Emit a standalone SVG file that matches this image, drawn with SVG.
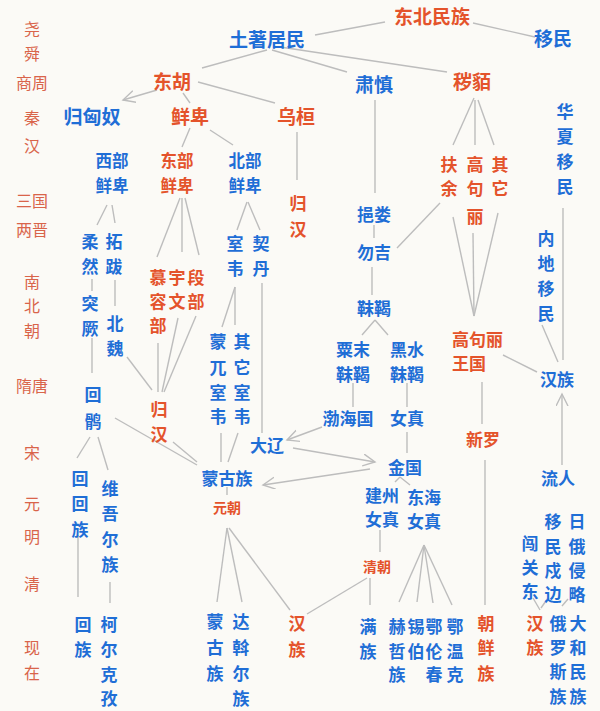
<svg xmlns="http://www.w3.org/2000/svg" width="600" height="711" viewBox="0 0 600 711">
<defs>
<style>
text{font-family:"Noto Sans CJK SC","Noto Sans",sans-serif;text-anchor:middle;dominant-baseline:central}
.r{fill:#e4532b;font-weight:700;font-size:17px}
.b{fill:#1f6ed6;font-weight:700;font-size:17px}
.L{font-size:19px}
.s{font-size:14px}
.m{font-size:16.5px}
.e{fill:#d9644a;font-size:16px}
.c line{stroke:#bdbdbd;stroke-width:1.4;fill:none}
.st{text-anchor:start}
</style>
<marker id="a" markerUnits="userSpaceOnUse" markerWidth="16" markerHeight="16" refX="12" refY="6" orient="auto"><path d="M0,0 L12,6 L0,12" fill="none" stroke="#bdbdbd" stroke-width="1.4"/></marker>
</defs>
<rect width="600" height="711" fill="#fbfaf6"/>
<g id="eras">
<text class="e" x="32" y="28">尧</text><text class="e" x="32" y="53">舜</text>
<text class="e" x="32" y="82">商周</text>
<text class="e" x="32" y="117">秦</text><text class="e" x="32" y="145">汉</text>
<text class="e" x="32" y="200">三国</text><text class="e" x="32" y="229">两晋</text>
<text class="e" x="32" y="281">南</text><text class="e" x="32" y="305">北</text><text class="e" x="32" y="330">朝</text>
<text class="e" x="32" y="385">隋唐</text>
<text class="e" x="32" y="452">宋</text>
<text class="e" x="32" y="503">元</text>
<text class="e" x="32" y="536">明</text>
<text class="e" x="32" y="583">清</text>
<text class="e" x="32" y="647">现</text><text class="e" x="32" y="672">在</text>
</g>
<g class="c" id="connectors">
<line x1="385" y1="22" x2="315" y2="35"/>
<line x1="473" y1="23" x2="535" y2="37"/>
<line x1="267" y1="50" x2="202" y2="68"/>
<line x1="272" y1="50" x2="347" y2="72"/>
<line x1="280" y1="47" x2="447" y2="72"/>
<line x1="198" y1="82" x2="275" y2="103"/>
<line x1="157" y1="90" x2="123" y2="100" marker-end="url(#a)"/>
<line x1="183" y1="93" x2="190" y2="103"/>
<line x1="190" y1="128" x2="182" y2="147"/>
<line x1="210" y1="130" x2="233" y2="145"/>
<line x1="297" y1="132" x2="297" y2="180"/>
<line x1="375" y1="100" x2="375" y2="193"/>
<line x1="374" y1="225" x2="374" y2="238"/>
<line x1="440" y1="203" x2="397" y2="248"/>
<line x1="372" y1="267" x2="372" y2="295"/>
<line x1="474" y1="98" x2="453" y2="145"/>
<line x1="475" y1="100" x2="475" y2="145"/>
<line x1="478" y1="100" x2="494" y2="145"/>
<line x1="453" y1="217" x2="474" y2="316"/>
<line x1="473" y1="233" x2="474" y2="316"/>
<line x1="498" y1="213" x2="474" y2="316"/>
<line x1="563" y1="208" x2="563" y2="360"/>
<line x1="542" y1="325" x2="558" y2="362"/>
<line x1="503" y1="355" x2="537" y2="372"/>
<line x1="482" y1="382" x2="482" y2="424"/>
<line x1="485" y1="460" x2="485" y2="605"/>
<line x1="562" y1="465" x2="562" y2="394" marker-end="url(#a)"/>
<line x1="107" y1="205" x2="97" y2="225"/>
<line x1="112" y1="205" x2="115" y2="223"/>
<line x1="92" y1="279" x2="92" y2="291"/>
<line x1="92" y1="338" x2="92" y2="373"/>
<line x1="115" y1="280" x2="115" y2="306"/>
<line x1="127" y1="357" x2="152" y2="390"/>
<line x1="180" y1="198" x2="157" y2="257"/>
<line x1="182" y1="198" x2="182" y2="252"/>
<line x1="185" y1="198" x2="199" y2="255"/>
<line x1="158" y1="343" x2="158" y2="392"/>
<line x1="178" y1="318" x2="162" y2="392"/>
<line x1="196" y1="316" x2="164" y2="392"/>
<line x1="115" y1="418" x2="197" y2="465"/>
<line x1="173" y1="442" x2="197" y2="462"/>
<line x1="247" y1="202" x2="237" y2="230"/>
<line x1="248" y1="202" x2="260" y2="230"/>
<line x1="235" y1="287" x2="222" y2="327"/>
<line x1="235" y1="287" x2="235" y2="325"/>
<line x1="262" y1="283" x2="262" y2="433"/>
<line x1="221" y1="433" x2="221" y2="462"/>
<line x1="238" y1="433" x2="228" y2="462"/>
<line x1="322" y1="427" x2="287" y2="440" marker-end="url(#a)"/>
<line x1="293" y1="448" x2="375" y2="462" marker-end="url(#a)"/>
<line x1="370" y1="469" x2="263" y2="485" marker-end="url(#a)"/>
<line x1="353" y1="383" x2="353" y2="407"/>
<line x1="407" y1="383" x2="407" y2="407"/>
<line x1="375" y1="320" x2="362" y2="335"/>
<line x1="375" y1="320" x2="388" y2="335"/>
<line x1="407" y1="432" x2="407" y2="453"/>
<line x1="400" y1="477" x2="395" y2="482"/>
<line x1="400" y1="477" x2="410" y2="485"/>
<line x1="380" y1="530" x2="380" y2="552"/>
<line x1="424" y1="545" x2="399" y2="602"/>
<line x1="424" y1="545" x2="417" y2="602"/>
<line x1="424" y1="545" x2="433" y2="603"/>
<line x1="424" y1="545" x2="452" y2="605"/>
<line x1="367" y1="578" x2="307" y2="614"/>
<line x1="370" y1="578" x2="370" y2="605"/>
<line x1="227" y1="528" x2="217" y2="602"/>
<line x1="227" y1="528" x2="242" y2="602"/>
<line x1="229" y1="528" x2="290" y2="610"/>
<line x1="227" y1="487" x2="227" y2="495"/>
<line x1="90" y1="437" x2="77" y2="458"/>
<line x1="98" y1="437" x2="108" y2="470"/>
<line x1="78" y1="535" x2="78" y2="597"/>
<line x1="110" y1="582" x2="110" y2="603"/>
<line x1="533" y1="598" x2="540" y2="610"/>
<line x1="548" y1="598" x2="541" y2="608"/>
<line x1="568" y1="599" x2="562" y2="606"/>
</g>
<g id="dongbei"><text class="r L" x="432" y="15">东北民族</text></g>
<g id="tuzhu"><text class="b L" x="267" y="38">土著居民</text></g>
<g id="yimin"><text class="b L" x="553" y="37">移民</text></g>
<g id="donghu"><text class="r L" x="172" y="80">东胡</text></g>
<g id="sushen"><text class="b L" x="374" y="83">肃慎</text></g>
<g id="huimo"><text class="r L" x="472" y="80">秽貊</text></g>
<g id="guixiongnu"><text class="b L" x="92" y="115">归匈奴</text></g>
<g id="xianbei"><text class="r L" x="190" y="115">鲜卑</text></g>
<g id="wuhuan"><text class="r L" x="296" y="115">乌桓</text></g>
<g id="huaxia"><text class="b"><tspan x="565" y="110">华</tspan><tspan x="565" y="135">夏</tspan><tspan x="565" y="160">移</tspan><tspan x="565" y="185">民</tspan></text></g>
<g id="xibu"><text class="b m"><tspan x="112" y="160">西部</tspan><tspan x="112" y="185">鲜卑</tspan></text></g>
<g id="dongbu"><text class="r m"><tspan x="177" y="160">东部</tspan><tspan x="177" y="185">鲜卑</tspan></text></g>
<g id="beibu"><text class="b m"><tspan x="245" y="160">北部</tspan><tspan x="245" y="185">鲜卑</tspan></text></g>
<g id="guihan1"><text class="r"><tspan x="298" y="202">归</tspan><tspan x="298" y="228">汉</tspan></text></g>
<g id="fuyu"><text class="r"><tspan x="449" y="163">扶</tspan><tspan x="449" y="187">余</tspan></text></g>
<g id="gaogouli"><text class="r"><tspan x="475" y="163">高</tspan><tspan x="475" y="187">句</tspan><tspan x="475" y="215">丽</tspan></text></g>
<g id="qita1"><text class="r"><tspan x="500" y="163">其</tspan><tspan x="500" y="187">它</tspan></text></g>
<g id="yilou"><text class="b" x="374" y="213">挹娄</text></g>
<g id="wuji"><text class="b" x="374" y="251">勿吉</text></g>
<g id="mohe"><text class="b" x="374" y="307">靺鞨</text></g>
<g id="neidi"><text class="b"><tspan x="546" y="237">内</tspan><tspan x="546" y="262">地</tspan><tspan x="546" y="287">移</tspan><tspan x="546" y="312">民</tspan></text></g>
<g id="gaogouliwangguo"><text class="r st"><tspan x="452" y="338">高句丽</tspan><tspan x="452" y="362">王国</tspan></text></g>
<g id="hanzu1"><text class="b" x="557" y="378">汉族</text></g>
<g id="rouran"><text class="b"><tspan x="90" y="240">柔</tspan><tspan x="90" y="265">然</tspan></text></g>
<g id="tuoba"><text class="b"><tspan x="114" y="240">拓</tspan><tspan x="114" y="265">跋</tspan></text></g>
<g id="tujue"><text class="b"><tspan x="90" y="302">突</tspan><tspan x="90" y="327">厥</tspan></text></g>
<g id="beiwei"><text class="b"><tspan x="115" y="322">北</tspan><tspan x="115" y="347">魏</tspan></text></g>
<g id="murong"><text class="r"><tspan x="158" y="276">慕</tspan><tspan x="158" y="300">容</tspan><tspan x="158" y="324">部</tspan></text></g>
<g id="yuwen"><text class="r"><tspan x="177" y="276">宇</tspan><tspan x="177" y="300">文</tspan></text></g>
<g id="duan"><text class="r"><tspan x="196" y="276">段</tspan><tspan x="196" y="300">部</tspan></text></g>
<g id="shiwei"><text class="b"><tspan x="235" y="242">室</tspan><tspan x="235" y="267">韦</tspan></text></g>
<g id="qidan"><text class="b"><tspan x="261" y="242">契</tspan><tspan x="261" y="267">丹</tspan></text></g>
<g id="mengwu"><text class="b"><tspan x="218" y="340">蒙</tspan><tspan x="218" y="366">兀</tspan><tspan x="218" y="391">室</tspan><tspan x="218" y="415">韦</tspan></text></g>
<g id="qitashiwei"><text class="b"><tspan x="242" y="340">其</tspan><tspan x="242" y="366">它</tspan><tspan x="242" y="391">室</tspan><tspan x="242" y="415">韦</tspan></text></g>
<g id="huihu"><text class="b"><tspan x="93" y="393">回</tspan><tspan x="93" y="420">鹘</tspan></text></g>
<g id="guihan2"><text class="r"><tspan x="159" y="408">归</tspan><tspan x="159" y="433">汉</tspan></text></g>
<g id="sumo"><text class="b"><tspan x="353" y="348">粟末</tspan><tspan x="353" y="373">靺鞨</tspan></text></g>
<g id="heishui"><text class="b"><tspan x="407" y="348">黑水</tspan><tspan x="407" y="373">靺鞨</tspan></text></g>
<g id="bohai"><text class="b" x="348" y="417">渤海国</text></g>
<g id="nvzhen"><text class="b" x="407" y="417">女真</text></g>
<g id="xinluo"><text class="r" x="483" y="438">新罗</text></g>
<g id="daliao"><text class="b" x="267" y="444">大辽</text></g>
<g id="jinguo"><text class="b" x="405" y="466">金国</text></g>
<g id="mengguzu"><text class="b" x="227" y="477">蒙古族</text></g>
<g id="yuanchao"><text class="r s" x="227" y="507">元朝</text></g>
<g id="liuren"><text class="b" x="558" y="477">流人</text></g>
<g id="huihuizu"><text class="b"><tspan x="80" y="477">回</tspan><tspan x="80" y="502">回</tspan><tspan x="80" y="528">族</tspan></text></g>
<g id="weiwuer"><text class="b"><tspan x="110" y="487">维</tspan><tspan x="110" y="512">吾</tspan><tspan x="110" y="538">尔</tspan><tspan x="110" y="563">族</tspan></text></g>
<g id="jianzhou"><text class="b"><tspan x="382" y="494">建州</tspan><tspan x="382" y="518">女真</tspan></text></g>
<g id="donghai"><text class="b"><tspan x="424" y="496">东海</tspan><tspan x="424" y="520">女真</tspan></text></g>
<g id="qingchao"><text class="r s" x="377" y="566">清朝</text></g>
<g id="yiminshubian"><text class="b"><tspan x="553" y="520">移</tspan><tspan x="553" y="545">民</tspan><tspan x="553" y="569">戍</tspan><tspan x="553" y="593">边</tspan></text></g>
<g id="riqin"><text class="b"><tspan x="577" y="520">日</tspan><tspan x="577" y="545">俄</tspan><tspan x="577" y="569">侵</tspan><tspan x="577" y="593">略</tspan></text></g>
<g id="chuangguandong"><text class="b"><tspan x="530" y="542">闯</tspan><tspan x="530" y="566">关</tspan><tspan x="530" y="590">东</tspan></text></g>
<g id="hanzu3"><text class="r"><tspan x="535" y="622">汉</tspan><tspan x="535" y="646">族</tspan></text></g>
<g id="eluosi"><text class="b"><tspan x="558" y="622">俄</tspan><tspan x="558" y="646">罗</tspan><tspan x="558" y="670">斯</tspan><tspan x="558" y="695">族</tspan></text></g>
<g id="dahe"><text class="b"><tspan x="578" y="622">大</tspan><tspan x="578" y="646">和</tspan><tspan x="578" y="670">民</tspan><tspan x="578" y="695">族</tspan></text></g>
<g id="chaoxian"><text class="r"><tspan x="486" y="622">朝</tspan><tspan x="486" y="646">鲜</tspan><tspan x="486" y="672">族</tspan></text></g>
<g id="manzu"><text class="b"><tspan x="368" y="625">满</tspan><tspan x="368" y="650">族</tspan></text></g>
<g id="hezhe"><text class="b"><tspan x="397" y="625">赫</tspan><tspan x="397" y="650">哲</tspan><tspan x="397" y="673">族</tspan></text></g>
<g id="xibo"><text class="b"><tspan x="416" y="625">锡</tspan><tspan x="416" y="650">伯</tspan></text></g>
<g id="elunchun"><text class="b"><tspan x="434" y="625">鄂</tspan><tspan x="434" y="650">伦</tspan><tspan x="434" y="673">春</tspan></text></g>
<g id="ewenke"><text class="b"><tspan x="455" y="625">鄂</tspan><tspan x="455" y="650">温</tspan><tspan x="455" y="673">克</tspan></text></g>
<g id="menggu2"><text class="b"><tspan x="215" y="620">蒙</tspan><tspan x="215" y="646">古</tspan><tspan x="215" y="672">族</tspan></text></g>
<g id="dawoer"><text class="b"><tspan x="241" y="620">达</tspan><tspan x="241" y="646">斡</tspan><tspan x="241" y="672">尔</tspan><tspan x="241" y="697">族</tspan></text></g>
<g id="hanzu2"><text class="r"><tspan x="297" y="622">汉</tspan><tspan x="297" y="648">族</tspan></text></g>
<g id="huizu"><text class="b"><tspan x="83" y="623">回</tspan><tspan x="83" y="648">族</tspan></text></g>
<g id="keerkezi"><text class="b"><tspan x="109" y="623">柯</tspan><tspan x="109" y="648">尔</tspan><tspan x="109" y="673">克</tspan><tspan x="109" y="697">孜</tspan></text></g>
</svg>
